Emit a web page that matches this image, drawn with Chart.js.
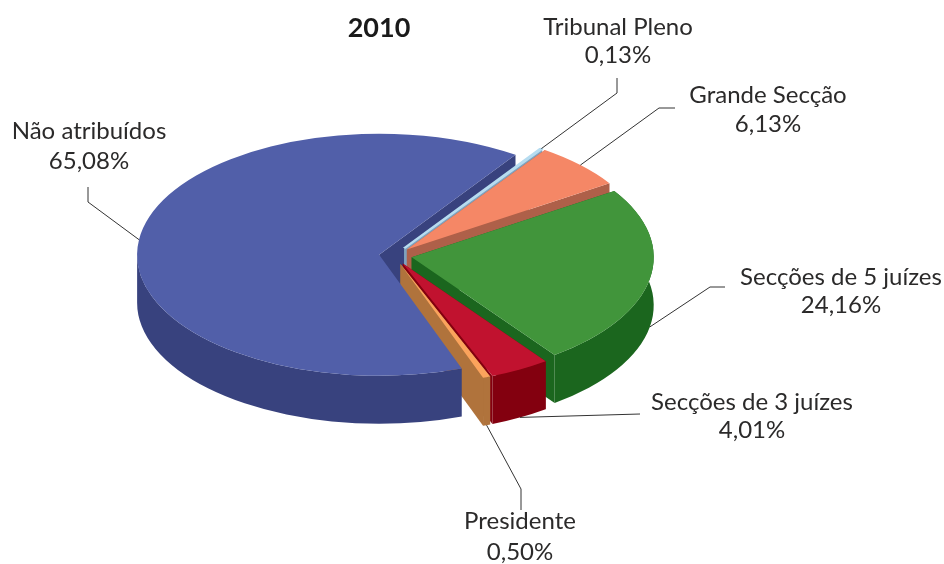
<!DOCTYPE html>
<html lang="pt">
<head>
<meta charset="utf-8">
<title>2010</title>
<script src="https://cdn.jsdelivr.net/npm/chart.js@4/dist/chart.umd.js"></script>
<style>
    html, body { margin: 0; padding: 0; background: #fff; }
    #chart-box { position: relative; width: 944px; height: 564px; }
</style>
</head>
<body>
<div id="chart-box"><canvas id="pie-chart"></canvas></div>
<script>
const categories = ['Tribunal Pleno', 'Grande Secção', 'Secções de 5 juízes', 'Secções de 3 juízes', 'Presidente', 'Não atribuídos'];
const shares = [0.13, 6.13, 24.16, 4.01, 0.50, 65.08];

const topColors = ['#B6DCF0', '#F58766', '#41953B', '#C1122F', '#FBA35C', '#515FA9'];
const sideColors = ['#7FA2BE', '#AE6049', '#1B661E', '#83000F', '#B0733C', '#38427E'];
const explode = [18, 18, 18, 18, 18, 15];
const edgeWidths = [3, 0, 0, 0, 0, 0]; // the 0,13% sliver is drawn wider in the original

const TILT = 0.5;
const DEPTH = 48;
const PIE_SHIFT = 15; // title sits centred on the chart area, the pie a bit right of it
const FONT = '24px Lato';
const TEXT_COLOR = '#2b2a2a';

// text centre and baselines, leader knee and end; wall: leader starts at the foot of the outer wall
const callouts = [
    { x: 618, y: [35, 63], path: [[617, 93], [617, 78]], wall: false },
    { x: 768, y: [103, 132], path: [[659, 108], [675, 108]], wall: false },
    { x: 841, y: [285, 313], path: [[710, 287], [725, 287]], wall: true },
    { x: 752, y: [410, 438], path: [[640, 414]], wall: true },
    { x: 520, y: [529, 560], path: [[521, 489], [521, 510]], wall: true },
    { x: 89, y: [139, 169], path: [[88, 202], [88, 187]], wall: false }
];

function formatShare(v) {
    return v.toFixed(2).replace('.', ',') + '%';
}

function midAngle(arc) {
    return (arc.startAngle + arc.endAngle) / 2;
}

// runs fn with the canvas moved to where slice i is exploded to
function atSlice(ctx, arc, i, fn) {
    const mid = midAngle(arc);
    ctx.save();
    ctx.translate(Math.cos(mid) * explode[i], Math.sin(mid) * explode[i]);
    ctx.fillStyle = sideColors[i];
    fn();
    ctx.restore();
}

function cutWall(ctx, arc, angle) {
    const h = DEPTH / TILT;
    const ex = arc.x + Math.cos(angle) * arc.outerRadius;
    const ey = arc.y + Math.sin(angle) * arc.outerRadius;
    ctx.beginPath();
    ctx.moveTo(arc.x, arc.y);
    ctx.lineTo(ex, ey);
    ctx.lineTo(ex, ey + h);
    ctx.lineTo(arc.x, arc.y + h);
    ctx.closePath();
    ctx.fill();
}

// only the front of the rim (angles up to PI) can be seen
function outerWall(ctx, arc) {
    const h = DEPTH / TILT;
    const end = Math.min(arc.endAngle, Math.PI);
    ctx.beginPath();
    ctx.arc(arc.x, arc.y, arc.outerRadius, arc.startAngle, end);
    ctx.arc(arc.x, arc.y + h, arc.outerRadius, end, arc.startAngle, true);
    ctx.closePath();
    ctx.fill();
}

const pie3d = {
    id: 'pie3d',
    beforeDatasetDraw(chart, args) {
        const ctx = chart.ctx;
        const arcs = args.meta.data;
        const cx = arcs[0].x;
        const cy = arcs[0].y;
        const big = arcs.length - 1;
        ctx.save();
        ctx.translate(cx + PIE_SHIFT, cy);
        ctx.scale(1, TILT);
        ctx.translate(-cx, -cy);

        // the big slice wraps round the rest: its far cut goes behind them, its rim and top in front
        atSlice(ctx, arcs[big], big, () => cutWall(ctx, arcs[big], arcs[big].endAngle));
        for (let i = 0; i < big; i++) {
            const arc = arcs[i];
            atSlice(ctx, arc, i, () => {
                cutWall(ctx, arc, arc.startAngle);
                cutWall(ctx, arc, arc.endAngle);
                if (arc.endAngle > 0) {
                    outerWall(ctx, arc);
                }
                arc.draw(ctx);
            });
        }
        atSlice(ctx, arcs[big], big, () => {
            outerWall(ctx, arcs[big]);
            arcs[big].draw(ctx);
        });

        ctx.restore();
        return false;
    },
    afterDraw(chart) {
        const ctx = chart.ctx;
        const arcs = chart.getDatasetMeta(0).data;
        ctx.save();
        ctx.strokeStyle = '#333';
        ctx.lineWidth = 1;
        callouts.forEach((c, i) => {
            const arc = arcs[i];
            const mid = midAngle(arc);
            const r = arc.outerRadius + explode[i];
            const sx = arc.x + PIE_SHIFT + Math.cos(mid) * r;
            const sy = arc.y + Math.sin(mid) * r * TILT + (c.wall ? DEPTH : 0);
            ctx.beginPath();
            ctx.moveTo(sx, sy);
            c.path.forEach(p => ctx.lineTo(p[0], p[1]));
            ctx.stroke();

            ctx.fillStyle = TEXT_COLOR;
            ctx.font = FONT;
            ctx.textAlign = 'center';
            ctx.textBaseline = 'alphabetic';
            ctx.fillText(categories[i], c.x, c.y[0]);
            ctx.fillText(formatShare(shares[i]), c.x, c.y[1]);
        });
        ctx.restore();
    }
};

new Chart(document.getElementById('pie-chart'), {
    type: 'pie',
    data: {
        labels: categories,
        datasets: [{
            data: shares,
            backgroundColor: topColors,
            borderColor: topColors,
            borderWidth: edgeWidths,
            clip: false
        }]
    },
    options: {
        responsive: true,
        maintainAspectRatio: false,
        animation: false,
        rotation: 34.3,
        radius: 242,
        layout: { padding: { top: 0, left: 0, right: 186, bottom: 109 } },
        plugins: {
            legend: { display: false },
            tooltip: { enabled: false },
            title: {
                display: true,
                text: '2010',
                fullSize: false,
                color: '#1a1a1a',
                font: { family: 'Lato', size: 27, weight: 'bold' },
                padding: { top: 12, bottom: 12 }
            }
        }
    },
    plugins: [pie3d]
});
</script>
</body>
</html>
